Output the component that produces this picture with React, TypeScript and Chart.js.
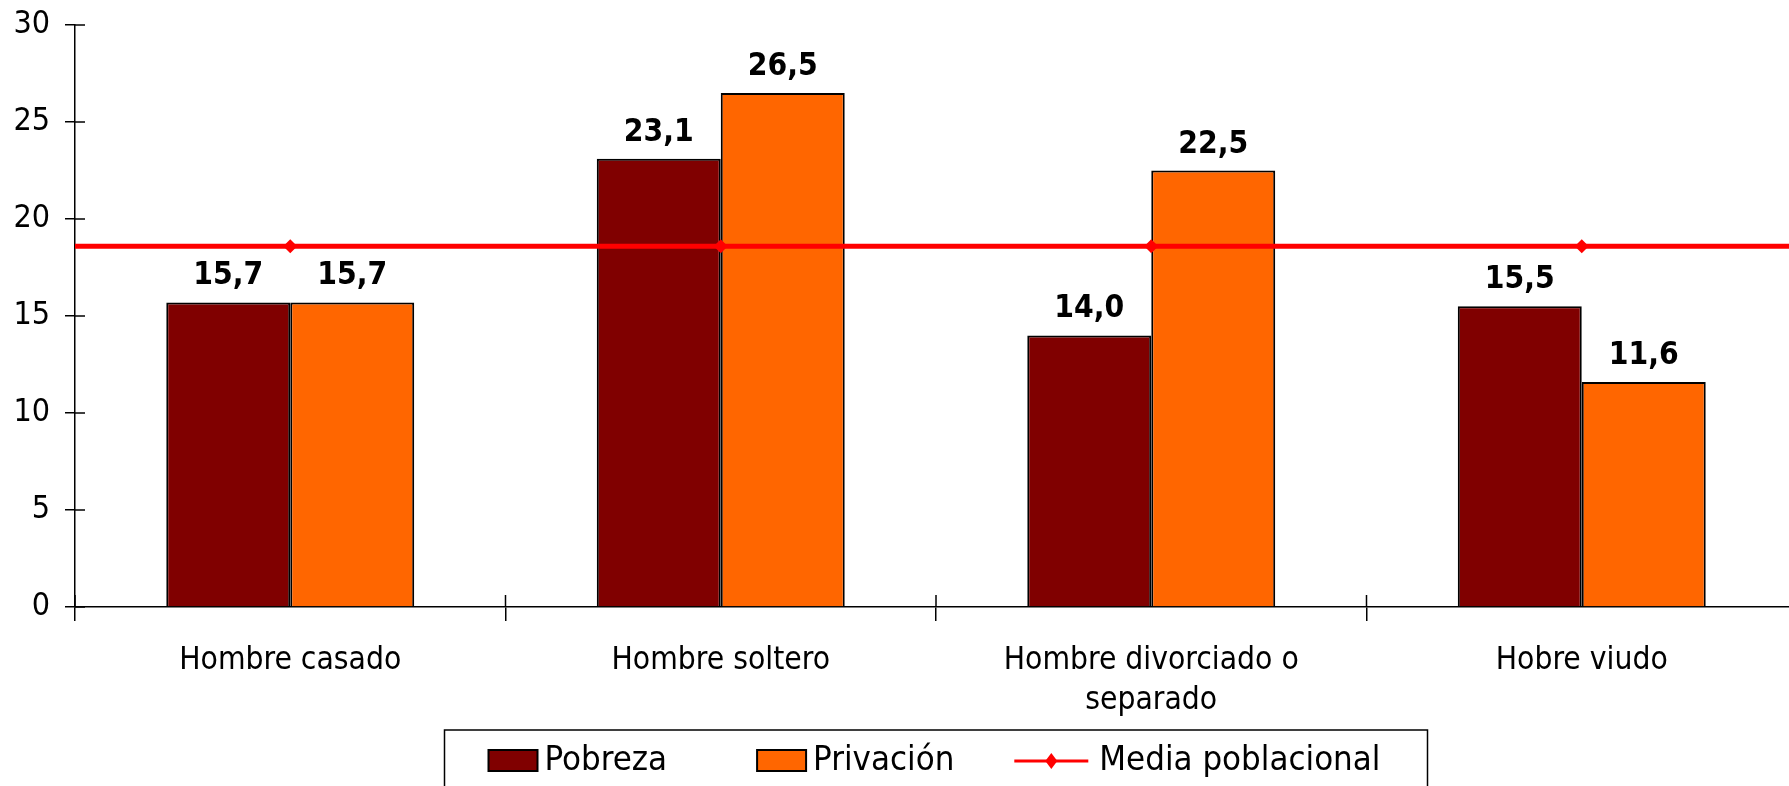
import React, { useEffect, useRef } from "react";
import { Chart, registerables } from "chart.js";

Chart.register(...registerables);

const categories: (string | string[])[] = [
  "Hombre casado",
  "Hombre soltero",
  ["Hombre divorciado o", "separado"],
  "Hobre viudo",
];
const pobreza = [15.7, 23.1, 14.0, 15.5];
const privacion = [15.7, 26.5, 22.5, 11.6];
const mediaPoblacional = 18.6;
const seriesNames = ["Pobreza", "Privación", "Media poblacional"];
const yTicks = [0, 5, 10, 15, 20, 25, 30];

const FONT = "'DejaVu Sans Condensed', 'DejaVu Sans', sans-serif";

const fmt = (v: number) => v.toFixed(1).replace(".", ",");

const extrasPlugin = {
  id: "extras",
  afterDatasetsDraw(chart: any) {
    const ctx = chart.ctx;
    ctx.save();
    ctx.font = `bold 31.5px ${FONT}`;
    ctx.fillStyle = "#000";
    ctx.textAlign = "center";
    ctx.textBaseline = "alphabetic";
    chart.data.datasets.forEach((ds: any, di: number) => {
      if (ds.type !== "bar") return;
      const meta = chart.getDatasetMeta(di);
      meta.data.forEach((el: any, i: number) => {
        ctx.fillText(fmt(ds.data[i]), el.x, el.y - 18);
      });
    });
    ctx.strokeStyle = "#000";
    ctx.lineWidth = 1.5;
    const ys = chart.scales.y;
    const xs = chart.scales.x;
    const area = chart.chartArea;
    ys.ticks.forEach((t: any) => {
      const py = ys.getPixelForValue(t.value);
      ctx.beginPath();
      ctx.moveTo(area.left, py);
      ctx.lineTo(area.left + 10, py);
      ctx.stroke();
    });
    for (let i = 0; i <= categories.length; i++) {
      const px = xs.getPixelForValue(i - 0.5);
      ctx.beginPath();
      ctx.moveTo(px, area.bottom);
      ctx.lineTo(px, area.bottom - 12);
      ctx.stroke();
    }
    ctx.restore();
  },
  afterDraw(chart: any) {
    const ctx = chart.ctx;
    const area = chart.chartArea;
    const boxW = 983;
    const boxTop = 730;
    const cx = (area.left + area.right) / 2;
    const boxLeft = cx - boxW / 2;
    ctx.save();
    ctx.fillStyle = "#fff";
    ctx.fillRect(boxLeft, boxTop, boxW, 100);
    ctx.strokeStyle = "#000";
    ctx.lineWidth = 1.5;
    ctx.strokeRect(boxLeft, boxTop, boxW, 100);
    ctx.font = `34.5px ${FONT}`;
    ctx.textBaseline = "middle";
    ctx.textAlign = "left";
    const textY = 761;
    const swatchW = [49, 49, 74];
    const gapAfterSwatch = [7, 7, 11];
    const gapAfterText = [90, 60, 0];
    let x = boxLeft + 44;
    chart.data.datasets.forEach((ds: any, i: number) => {
      if (ds.type === "bar") {
        ctx.fillStyle = ds.backgroundColor;
        ctx.fillRect(x, textY - 11, swatchW[i], 21);
        ctx.strokeStyle = "#000";
        ctx.lineWidth = 2;
        ctx.strokeRect(x, textY - 11, swatchW[i], 21);
      } else {
        ctx.strokeStyle = ds.borderColor;
        ctx.lineWidth = 3;
        ctx.beginPath();
        ctx.moveTo(x, textY);
        ctx.lineTo(x + swatchW[i], textY);
        ctx.stroke();
        const mx = x + swatchW[i] / 2;
        ctx.fillStyle = ds.borderColor;
        ctx.beginPath();
        ctx.moveTo(mx, textY - 8);
        ctx.lineTo(mx + 6, textY);
        ctx.lineTo(mx, textY + 8);
        ctx.lineTo(mx - 6, textY);
        ctx.closePath();
        ctx.fill();
      }
      x += swatchW[i] + gapAfterSwatch[i];
      ctx.fillStyle = "#000";
      ctx.fillText(ds.label, x, textY);
      x += ctx.measureText(ds.label).width + gapAfterText[i];
    });
    ctx.restore();
  },
};

export default function App() {
  const ref = useRef<HTMLCanvasElement | null>(null);
  useEffect(() => {
    if (!ref.current) return;
    const n = categories.length;
    const linePoints = [
      { x: 0, y: mediaPoblacional },
      ...categories.map((_, i) => ({ x: i + 0.5, y: mediaPoblacional })),
      { x: n, y: mediaPoblacional },
    ];
    const radii = linePoints.map((p) => (p.x === 0 || p.x === n ? 0 : 7));
    const chart = new Chart(ref.current, {
      type: "bar",
      data: {
        labels: categories as any,
        datasets: [
          {
            type: "bar",
            indexAxis: "x",
            xAxisID: "x",
            yAxisID: "y",
            label: seriesNames[0],
            data: pobreza,
            backgroundColor: "#800000",
            borderColor: "#000",
            borderWidth: 2,
            barPercentage: 1,
            categoryPercentage: 0.576,
            order: 1,
          } as any,
          {
            type: "bar",
            indexAxis: "x",
            xAxisID: "x",
            yAxisID: "y",
            label: seriesNames[1],
            data: privacion,
            backgroundColor: "#FF6600",
            borderColor: "#000",
            borderWidth: 2,
            barPercentage: 1,
            categoryPercentage: 0.576,
            order: 1,
          } as any,
          {
            type: "line",
            indexAxis: "x",
            label: seriesNames[2],
            data: linePoints,
            xAxisID: "x2",
            yAxisID: "y",
            borderColor: "#FF0000",
            backgroundColor: "#FF0000",
            borderWidth: 5,
            pointStyle: "rectRot",
            pointRadius: radii,
            pointBorderWidth: 0,
            order: 0,
          } as any,
        ],
      },
      options: {
        responsive: false,
        animation: false,
        indexAxis: "y",
        color: "#000",
        layout: { padding: { left: 0, top: 25, right: 3, bottom: 59 } },
        plugins: {
          legend: { display: false },
          tooltip: { enabled: false },
        },
        scales: {
          x: {
            type: "category",
            axis: "x",
            position: "bottom",
            offset: true,
            grid: {
              display: true,
              offset: true,
              drawOnChartArea: false,
              tickLength: 14,
              color: "#000",
              lineWidth: 1.5,
            },
            border: { display: true, color: "#000", width: 1.5 },
            ticks: {
              color: "#000",
              font: { family: FONT, size: 31.5, lineHeight: 1.27 },
              padding: 20,
              maxRotation: 0,
              autoSkip: false,
            },
            afterFit: (s: any) => {
              s.height = 120;
              s.paddingLeft = 0;
              s.paddingRight = 0;
            },
          },
          x2: {
            type: "linear",
            axis: "x",
            position: "bottom",
            display: false,
            offset: false,
            grid: { offset: false },
            min: 0,
            max: n,
          },
          y: {
            type: "linear",
            axis: "y",
            position: "left",
            offset: false,
            min: yTicks[0],
            max: yTicks[yTicks.length - 1],
            afterBuildTicks: (s: any) => {
              s.ticks = yTicks.map((v) => ({ value: v }));
            },
            grid: {
              display: true,
              offset: false,
              drawOnChartArea: false,
              tickLength: 10,
              color: "#000",
              lineWidth: 1.5,
            },
            border: { display: true, color: "#000", width: 1.5 },
            ticks: {
              color: "#000",
              font: { family: FONT, size: 32 },
              padding: 15,
            },
            afterFit: (s: any) => {
              s.width = 75;
              s.paddingTop = 0;
              s.paddingBottom = 0;
            },
          },
        },
      },
      plugins: [extrasPlugin],
    } as any);
    return () => chart.destroy();
  }, []);
  return (
    <div
      style={{
        position: "fixed",
        left: 0,
        top: 0,
        width: 1789,
        height: 786,
        overflow: "hidden",
        background: "#fff",
      }}
    >
      <canvas ref={ref} width={1800} height={786} style={{ width: 1800, height: 786, display: "block" }} />
    </div>
  );
}
